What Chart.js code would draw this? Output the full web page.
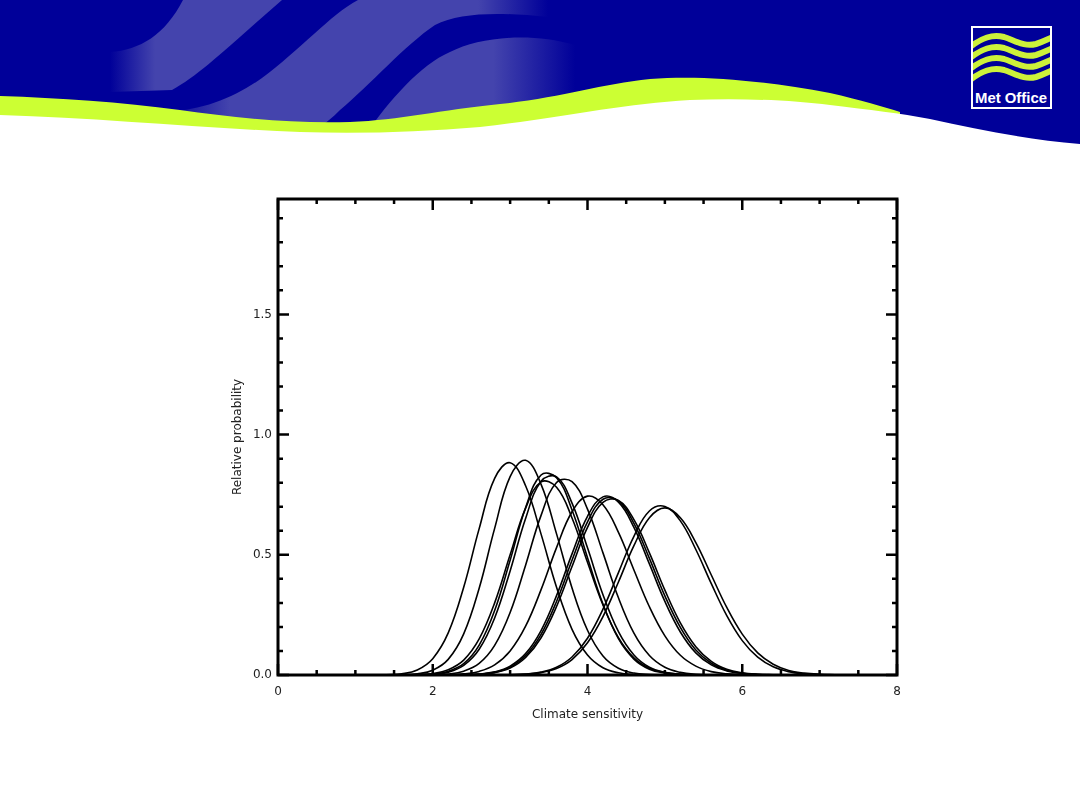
<!DOCTYPE html>
<html>
<head>
<meta charset="utf-8">
<script src="https://cdn.jsdelivr.net/npm/chart.js@4.4.1/dist/chart.umd.min.js"></script>
<style>
  html, body { margin: 0; padding: 0; background: #fff; }
  #page { position: relative; width: 1080px; height: 810px; overflow: hidden; }
  #banner { position: absolute; left: 0; top: 0; }
  #chart { position: absolute; left: 0; top: 0; }
</style>
</head>
<body>
<div id="page">
<svg id="banner" width="1080" height="160" viewBox="0 0 1080 160">
  <defs>
    <linearGradient id="band1" x1="110" y1="0" x2="290" y2="0" gradientUnits="userSpaceOnUse">
      <stop offset="0" stop-color="#4444ad" stop-opacity="0"/>
      <stop offset="0.25" stop-color="#4444ad" stop-opacity="1"/>
      <stop offset="1" stop-color="#4444ad" stop-opacity="1"/>
    </linearGradient>
    <linearGradient id="band2" x1="160" y1="0" x2="548" y2="0" gradientUnits="userSpaceOnUse">
      <stop offset="0" stop-color="#4444ad" stop-opacity="0"/>
      <stop offset="0.18" stop-color="#4444ad" stop-opacity="1"/>
      <stop offset="0.82" stop-color="#4444ad" stop-opacity="1"/>
      <stop offset="1" stop-color="#4444ad" stop-opacity="0"/>
    </linearGradient>
    <linearGradient id="band3" x1="360" y1="0" x2="575" y2="0" gradientUnits="userSpaceOnUse">
      <stop offset="0" stop-color="#4444ad" stop-opacity="1"/>
      <stop offset="0.62" stop-color="#4444ad" stop-opacity="1"/>
      <stop offset="1" stop-color="#4444ad" stop-opacity="0"/>
    </linearGradient>
    <clipPath id="logoClip"><rect x="973" y="28" width="77" height="79"/></clipPath>
  </defs>
  <rect x="0" y="0" width="1080" height="160" fill="#000099"/>
  <path d="M110 92 L172 90 C200 75 230 45 282 0 L183 0 C165 35 140 50 110 52 Z" fill="url(#band1)"/>
  <path d="M165 112 C205 110 235 97 262 78 C300 50 330 15 358 0 L548 0 L548 17 C500 12 460 12 435 25 C405 45 370 85 340 110 C325 125 310 135 296 140 Z" fill="url(#band2)"/>
  <path d="M365 135 C390 100 420 65 450 52 C480 37 530 32 575 45 L575 130 Z" fill="url(#band3)"/>
  <path d="M0 96 C60 98 120 102 180 110 C230 117 290 124 350 122 C400 120 440 110 500 104 C560 98 600 84 650 79 C700 75 760 80 830 93 C860 100 885 107 900 112 L900 160 L0 160 Z" fill="#ccff33"/>
  <path d="M0 115 C100 118 200 128 300 132 C360 134 420 132 480 127 C560 118 620 104 690 100 C740 98 790 100 830 105 C870 110 900 113 930 119 C980 130 1030 140 1080 144 L1080 160 L0 160 Z" fill="#ffffff"/>
  <rect x="972" y="27" width="79" height="81" fill="#000099" stroke="#ffffff" stroke-width="2"/>
  <g clip-path="url(#logoClip)" fill="none" stroke="#ccf23a" stroke-width="6">
    <path d="M970 47 C982 38 992 34 1004 37 C1016 41 1024 47 1036 44 C1043 42 1048 39 1053 37"/>
    <path d="M970 58 C982 49 992 45 1004 48 C1016 52 1024 58 1036 55 C1043 53 1048 50 1053 48"/>
    <path d="M970 69 C982 60 992 56 1004 59 C1016 63 1024 69 1036 66 C1043 64 1048 61 1053 59"/>
    <path d="M970 80 C982 71 992 67 1004 70 C1016 74 1024 80 1036 77 C1043 75 1048 72 1053 70"/>
  </g>
  <text x="975" y="103" fill="#ffffff" font-family="'Liberation Sans Narrow', 'Liberation Sans', sans-serif" font-weight="bold" font-size="15" textLength="72" lengthAdjust="spacingAndGlyphs">Met Office</text>
</svg>
<canvas id="chart" width="1080" height="810"></canvas>
</div>
<script>
// climate sensitivity grid (K)
const sensitivity = [1.4, 1.6, 1.8, 2.0, 2.2, 2.4, 2.6, 2.8, 3.0, 3.2, 3.4, 3.6, 3.8, 4.0, 4.2,
                     4.4, 4.6, 4.8, 5.0, 5.2, 5.4, 5.6, 5.8, 6.0, 6.2, 6.4, 6.6, 6.8, 7.0, 7.2];

// relative probability for each curve
const run01 = [0.001, 0.005, 0.021, 0.068, 0.175, 0.365, 0.609, 0.818, 0.883, 0.787, 0.586, 0.365, 0.190, 0.083, 0.030,
               0.009, 0.002, 0.001, 0, 0, 0, 0, 0, 0, 0, 0, 0, 0, 0, 0];
const run02 = [0, 0.001, 0.005, 0.020, 0.065, 0.171, 0.361, 0.610, 0.825, 0.893, 0.793, 0.587, 0.362, 0.186, 0.079,
               0.028, 0.008, 0.002, 0, 0, 0, 0, 0, 0, 0, 0, 0, 0, 0, 0];
const run03 = [0, 0, 0.001, 0.004, 0.015, 0.047, 0.124, 0.268, 0.477, 0.696, 0.832, 0.821, 0.686, 0.488, 0.295,
               0.151, 0.066, 0.024, 0.008, 0.002, 0.001, 0, 0, 0, 0, 0, 0, 0, 0, 0];
const run04 = [0, 0, 0.001, 0.003, 0.012, 0.040, 0.107, 0.237, 0.433, 0.651, 0.806, 0.824, 0.715, 0.529, 0.334,
               0.180, 0.083, 0.032, 0.011, 0.003, 0.001, 0, 0, 0, 0, 0, 0, 0, 0, 0];
const run05 = [0, 0, 0.002, 0.006, 0.022, 0.062, 0.150, 0.300, 0.500, 0.694, 0.803, 0.781, 0.653, 0.469, 0.291,
               0.155, 0.071, 0.028, 0.010, 0.003, 0.001, 0, 0, 0, 0, 0, 0, 0, 0, 0];
const run06 = [0, 0, 0, 0.001, 0.004, 0.016, 0.048, 0.123, 0.260, 0.457, 0.664, 0.801, 0.804, 0.690, 0.508,
               0.321, 0.174, 0.081, 0.032, 0.011, 0.003, 0.001, 0, 0, 0, 0, 0, 0, 0, 0];
const run07 = [0, 0, 0, 0, 0.001, 0.005, 0.015, 0.042, 0.100, 0.203, 0.355, 0.530, 0.679, 0.744, 0.708,
               0.593, 0.437, 0.284, 0.163, 0.082, 0.037, 0.014, 0.005, 0.002, 0, 0, 0, 0, 0, 0];
const run08 = [0, 0, 0, 0, 0, 0.001, 0.004, 0.013, 0.037, 0.089, 0.185, 0.330, 0.504, 0.660, 0.741,
               0.719, 0.614, 0.462, 0.306, 0.179, 0.092, 0.042, 0.017, 0.006, 0.002, 0.001, 0, 0, 0, 0];
const run09 = [0, 0, 0, 0, 0, 0.001, 0.003, 0.011, 0.032, 0.080, 0.169, 0.306, 0.477, 0.637, 0.731,
               0.724, 0.631, 0.485, 0.329, 0.198, 0.104, 0.049, 0.020, 0.007, 0.002, 0.001, 0, 0, 0, 0];
const run10 = [0, 0, 0, 0, 0, 0.001, 0.003, 0.010, 0.029, 0.073, 0.155, 0.285, 0.451, 0.614, 0.718,
               0.726, 0.646, 0.508, 0.353, 0.217, 0.118, 0.057, 0.024, 0.009, 0.003, 0.001, 0, 0, 0, 0];
const run11 = [0, 0, 0, 0, 0, 0, 0, 0, 0.001, 0.004, 0.012, 0.032, 0.075, 0.153, 0.274,
               0.426, 0.577, 0.682, 0.701, 0.641, 0.522, 0.380, 0.247, 0.143, 0.074, 0.034, 0.014, 0.005, 0.002, 0];
const run12 = [0, 0, 0, 0, 0, 0, 0, 0, 0.001, 0.003, 0.010, 0.027, 0.064, 0.134, 0.243,
               0.387, 0.538, 0.654, 0.695, 0.654, 0.551, 0.416, 0.281, 0.170, 0.092, 0.045, 0.019, 0.008, 0.003, 0.001];

const runs = [run01, run02, run03, run04, run05, run06, run07, run08, run09, run10, run11, run12];

const xTickValues = [0, 2, 4, 6, 8];
const yTickValues = [0, 0.5, 1.0, 1.5];

// IDL style box with inward ticks on all four sides
const framePlugin = {
  id: 'frame',
  afterDraw(chart) {
    const { ctx, chartArea: a, scales: { x, y } } = chart;
    ctx.save();
    ctx.strokeStyle = '#000';
    ctx.lineWidth = 2.5;
    ctx.beginPath();
    for (let i = 0; i <= 16; i++) {
      const v = i * 0.5;
      const px = x.getPixelForValue(v);
      const len = i % 4 === 0 ? 11 : 5;
      ctx.moveTo(px, a.bottom); ctx.lineTo(px, a.bottom - len);
      ctx.moveTo(px, a.top); ctx.lineTo(px, a.top + len);
    }
    for (let i = 0; i <= 19; i++) {
      const v = i * 0.1;
      const py = y.getPixelForValue(v);
      const len = i % 5 === 0 ? 11 : 5;
      ctx.moveTo(a.left, py); ctx.lineTo(a.left + len, py);
      ctx.moveTo(a.right, py); ctx.lineTo(a.right - len, py);
    }
    ctx.stroke();
    ctx.lineWidth = 3;
    ctx.strokeRect(a.left, a.top, a.right - a.left, a.bottom - a.top);
    ctx.restore();
  }
};

const labelFont = { family: 'DejaVu Sans', size: 12 };

new Chart(document.getElementById('chart'), {
  type: 'line',
  data: {
    datasets: runs.map(ys => ({
      data: sensitivity.map((s, i) => ({ x: s, y: ys[i] })),
      borderColor: '#000',
      borderWidth: 1.6,
      pointRadius: 0,
      tension: 0.4,
      fill: false
    }))
  },
  options: {
    responsive: false,
    animation: false,
    devicePixelRatio: 1,
    layout: { padding: { left: 220, top: 199, right: 183, bottom: 85 } },
    plugins: { legend: { display: false }, tooltip: { enabled: false } },
    scales: {
      x: {
        type: 'linear',
        min: 0,
        max: 8,
        afterBuildTicks: (scale) => { scale.ticks = xTickValues.map(v => ({ value: v })); },
        afterFit: (scale) => { scale.height = 50; },
        grid: { display: false, drawTicks: false },
        border: { display: false },
        ticks: { font: labelFont, color: '#222', padding: 10, maxRotation: 0, callback: (v) => String(v) },
        title: { display: true, text: 'Climate sensitivity', font: labelFont, color: '#222', padding: { top: 0, bottom: 3 } }
      },
      y: {
        type: 'linear',
        min: 0,
        max: 1.98,
        afterBuildTicks: (scale) => { scale.ticks = yTickValues.map(v => ({ value: v })); },
        afterFit: (scale) => { scale.width = 58; },
        grid: { display: false, drawTicks: false },
        border: { display: false },
        ticks: { font: labelFont, color: '#222', padding: 6, callback: (v) => v.toFixed(1) },
        title: { display: true, text: 'Relative probability', font: labelFont, color: '#222', padding: { top: 11, bottom: 0 } }
      }
    }
  },
  plugins: [framePlugin]
});
</script>
</body>
</html>
